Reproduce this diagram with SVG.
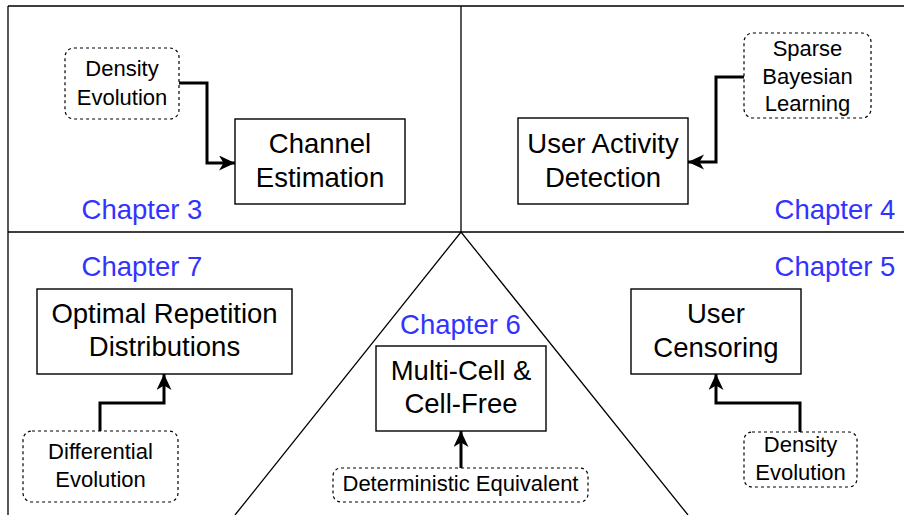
<svg xmlns="http://www.w3.org/2000/svg" width="904" height="515" viewBox="0 0 904 515">
  <style>
    .frame { fill: none; stroke: #000; stroke-width: 1.3; }
    .box { fill: #fff; stroke: #000; stroke-width: 1.4; }
    .method { fill: #fff; stroke: #000; stroke-width: 1.2; stroke-dasharray: 3 3; }
    .big { font-family: "Liberation Sans", Arial, sans-serif; font-size: 27.5px; fill: #000; text-anchor: middle; }
    .small { font-family: "Liberation Sans", Arial, sans-serif; font-size: 22px; fill: #000; text-anchor: middle; }
    .chapter { font-family: "Liberation Sans", Arial, sans-serif; font-size: 27.5px; fill: #3333ff; text-anchor: middle; }
    .link { fill: none; stroke: #000; stroke-width: 3; }
  </style>
  <defs>
    <marker id="arrow" markerUnits="userSpaceOnUse" markerWidth="18" markerHeight="16" refX="16" refY="7.5" orient="auto">
      <path d="M0,0 L16,7.5 L0,15 L4.5,7.5 Z" fill="#000"/>
    </marker>
  </defs>

  <rect width="904" height="515" fill="#fff"/>

  <!-- page partitions -->
  <g id="partitions">
    <path class="frame" d="M8,6 H904 M8,6 V515 M8,232 H904 M461,6 V232 M235,515 L461,232 L688,515"/>
  </g>

  <!-- chapter labels -->
  <g id="chapters">
    <text class="chapter" x="142" y="219">Chapter 3</text>
    <text class="chapter" x="835" y="219">Chapter 4</text>
    <text class="chapter" x="142" y="276">Chapter 7</text>
    <text class="chapter" x="835" y="276">Chapter 5</text>
    <text class="chapter" x="460.5" y="334">Chapter 6</text>
  </g>

  <!-- Chapter 3 -->
  <g id="de-ch3">
    <rect class="method" x="65" y="48" width="114" height="71" rx="9"/>
    <text class="small" x="122" y="76">Density</text>
    <text class="small" x="122" y="105">Evolution</text>
  </g>
  <g id="channel-estimation">
    <rect class="box" x="235" y="119" width="170" height="85"/>
    <text class="big" x="320" y="153">Channel</text>
    <text class="big" x="320" y="187">Estimation</text>
  </g>

  <!-- Chapter 4 -->
  <g id="sbl">
    <rect class="method" x="744" y="33" width="127" height="85" rx="9"/>
    <text class="small" x="807.5" y="56">Sparse</text>
    <text class="small" x="807.5" y="84">Bayesian</text>
    <text class="small" x="807.5" y="111">Learning</text>
  </g>
  <g id="user-activity-detection">
    <rect class="box" x="518" y="118" width="170" height="86"/>
    <text class="big" x="603" y="153">User Activity</text>
    <text class="big" x="603" y="187">Detection</text>
  </g>

  <!-- Chapter 7 -->
  <g id="optimal-repetition">
    <rect class="box" x="37" y="289" width="255" height="85"/>
    <text class="big" x="164.5" y="323">Optimal Repetition</text>
    <text class="big" x="164.5" y="356">Distributions</text>
  </g>
  <g id="differential-evolution">
    <rect class="method" x="23" y="431" width="155" height="71" rx="9"/>
    <text class="small" x="100.5" y="459">Differential</text>
    <text class="small" x="100.5" y="487">Evolution</text>
  </g>

  <!-- Chapter 6 -->
  <g id="multi-cell">
    <rect class="box" x="376" y="346" width="170" height="85"/>
    <text class="big" x="461" y="380">Multi-Cell &amp;</text>
    <text class="big" x="461" y="413">Cell-Free</text>
  </g>
  <g id="deterministic-equivalent">
    <rect class="method" x="333" y="468" width="255" height="34" rx="8"/>
    <text class="small" x="460.5" y="491">Deterministic Equivalent</text>
  </g>

  <!-- Chapter 5 -->
  <g id="user-censoring">
    <rect class="box" x="631" y="289" width="170" height="85"/>
    <text class="big" x="716" y="323">User</text>
    <text class="big" x="716" y="357">Censoring</text>
  </g>
  <g id="de-ch5">
    <rect class="method" x="744" y="432" width="113" height="55" rx="8"/>
    <text class="small" x="800.5" y="452">Density</text>
    <text class="small" x="800.5" y="480">Evolution</text>
  </g>

  <!-- connectors -->
  <g id="connectors">
    <path class="link" d="M179,83 H207 V163 H235" marker-end="url(#arrow)"/>
    <path class="link" d="M744,77 H716 V162 H688" marker-end="url(#arrow)"/>
    <path class="link" d="M100,431 V403 H164 V374" marker-end="url(#arrow)"/>
    <path class="link" d="M461,468 V431" marker-end="url(#arrow)"/>
    <path class="link" d="M800,432 V403 H716 V374" marker-end="url(#arrow)"/>
  </g>
</svg>
